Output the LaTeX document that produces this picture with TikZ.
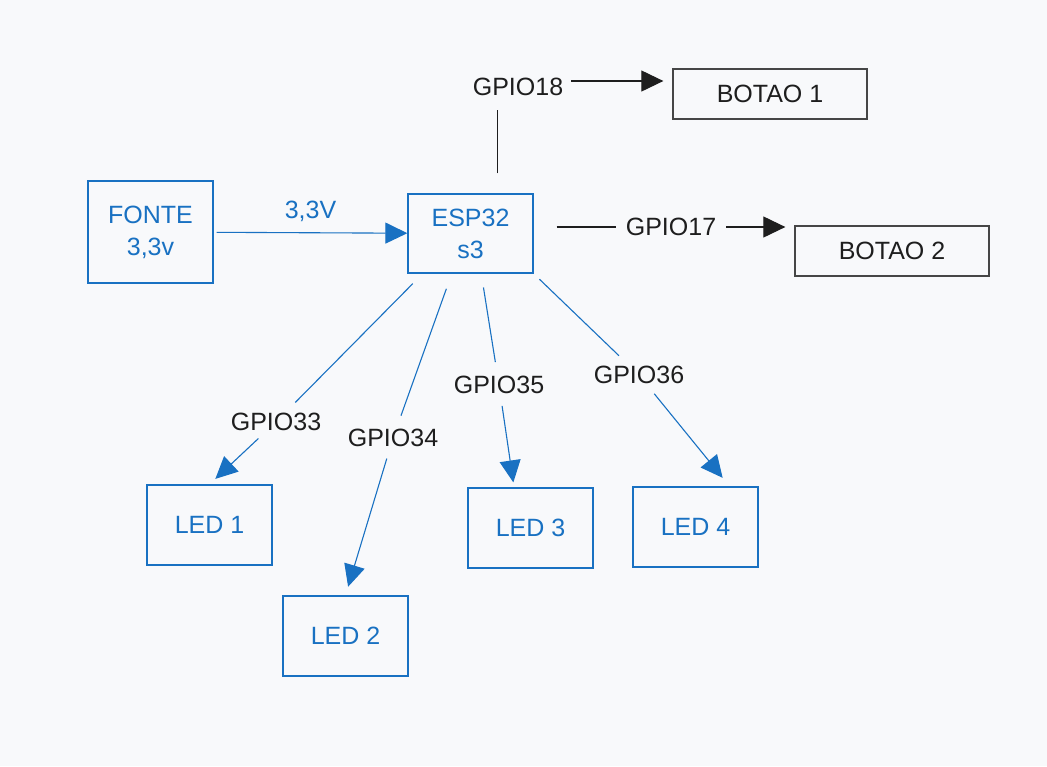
\documentclass[tikz,border=0pt]{standalone}
\usepackage{fontspec}
\setmainfont{Liberation Sans}
\usetikzlibrary{arrows.meta}

\definecolor{exblue}{RGB}{25,113,194}
\definecolor{exblack}{RGB}{30,30,30}
\definecolor{exgray}{RGB}{70,70,70}
\definecolor{bgpaper}{RGB}{248,249,251}

\begin{document}
\begin{tikzpicture}[x=1pt,y=-1pt,
    bluebox/.style={draw=exblue,line width=1.3pt,text=exblue,minimum width=125pt,
        minimum height=80pt,align=center,font=\fontsize{25}{32}\selectfont},
    graybox/.style={draw=exgray,line width=1.3pt,text=exblack,minimum width=194pt,
        minimum height=50pt,font=\fontsize{25}{28}\selectfont},
    pin/.style={text=exblack,inner sep=2pt,font=\fontsize{25}{28}\selectfont},
    blueline/.style={draw=exblue,line width=1.1pt},
    bluearrow/.style={blueline,-{Triangle[length=22pt,width=21pt]}},
    blackline/.style={draw=exblack,line width=1.1pt},
    blackarrow/.style={blackline,-{Triangle[length=22pt,width=21pt]}}]

    % Page
    \fill[bgpaper] (0,0) rectangle (1047,766);
    \useasboundingbox (0,0) rectangle (1047,766);

    % Boxes
    \node[bluebox,minimum height=102pt] (fonte) at (150.5,232) {FONTE\\3,3v};
    \node[bluebox,minimum height=79pt] (esp) at (470.5,233.5) {ESP32\\s3};
    \node[graybox] (bot1) at (770,94) {BOTAO 1};
    \node[graybox] (bot2) at (892,251) {BOTAO 2};
    \node[bluebox] (led1) at (209.5,525) {LED 1};
    \node[bluebox] (led2) at (345.5,636) {LED 2};
    \node[bluebox] (led3) at (530.5,528) {LED 3};
    \node[bluebox] (led4) at (695.5,527) {LED 4};

    % Pin labels
    \node[pin] (g18) at (518,87) {GPIO18};
    \node[pin] (g17) at (671,227) {GPIO17};
    \node[pin] (g33) at (276,422) {GPIO33};
    \node[pin] (g34) at (393,438) {GPIO34};
    \node[pin] (g35) at (499,385) {GPIO35};
    \node[pin] (g36) at (639,375) {GPIO36};

    % Power
    \draw[bluearrow,shorten <=3pt] (fonte) --
        node[pin,text=exblue,above=9pt] (volt) {3,3V} (esp);

    % Buttons
    \draw[blackline,shorten <=20pt,shorten >=12pt] (esp.56) -- (esp.56 |- g18.south);
    \draw[blackarrow,shorten <=6pt,shorten >=9pt] ([yshift=6pt]g18.east) -- ([yshift=6pt]g18.east -| bot1.west);
    \draw[blackline,shorten <=23pt,shorten >=8pt] (g17.west -| esp.east) -- (g17.west);
    \draw[blackarrow,shorten <=8pt,shorten >=9pt] (g17.east) -- (g17.east -| bot2.west);

    % LEDs
    \draw[blueline,shorten <=14pt,shorten >=12pt] (esp.220) -- (g33);
    \draw[bluearrow,shorten <=8pt,shorten >=8pt] (g33) -- (led1.north);
    \draw[blueline,shorten <=16pt,shorten >=12pt] (esp.245) -- (g34);
    \draw[bluearrow,shorten <=10pt,shorten >=9pt] (g34) -- (led2.north);
    \draw[blueline,shorten <=14pt,shorten >=12pt] (esp.285) -- (g35);
    \draw[bluearrow,shorten <=10pt,shorten >=5pt] (g35) -- (led3.112);
    \draw[blueline,shorten <=8pt,shorten >=12pt] (esp.south east) -- (g36);
    \draw[bluearrow,shorten <=10pt,shorten >=11pt] (g36) -- (led4.50);
\end{tikzpicture}
\end{document}
